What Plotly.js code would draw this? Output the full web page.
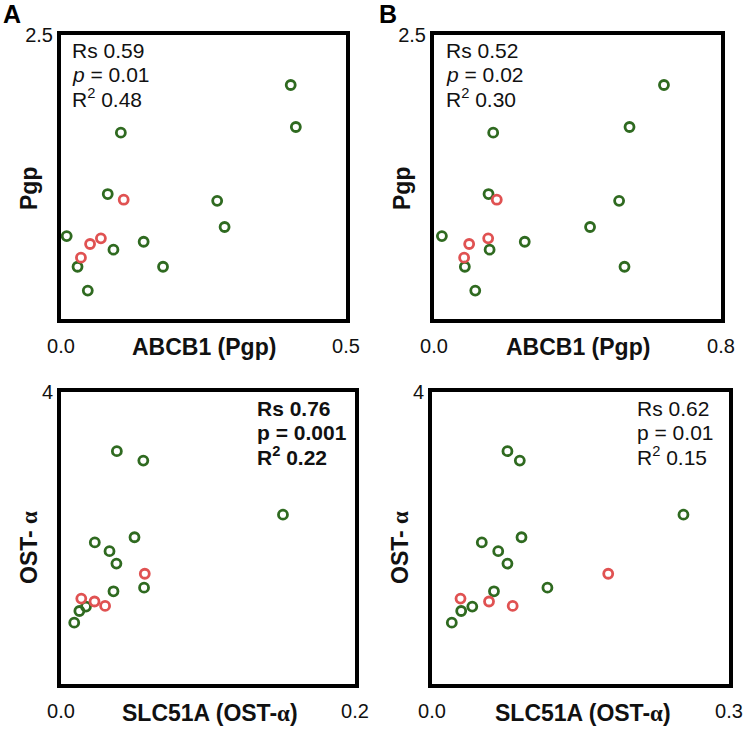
<!DOCTYPE html>
<html>
<head>
<meta charset="utf-8">
<script src="https://cdn.plot.ly/plotly-3.0.1.min.js"></script>
<style>
  html, body { margin: 0; padding: 0; background: #fff; }
  #plot { width: 746px; height: 729px; }
</style>
</head>
<body>
<div id="plot"></div>
<script>
// protein levels (same samples in A/B and in C/D)
let pgpGreen = [0.73, 0.46, 0.25, 1.10, 0.61, 1.64, 0.68, 0.46, 1.04, 0.81, 2.06, 1.69];
let pgpRed = [0.54, 0.66, 0.71, 1.05];
let ostGreen = [0.84, 1.00, 1.06, 1.94, 1.82, 1.65, 1.27, 3.19, 3.06, 2.01, 1.32, 2.32];
let ostRed = [1.17, 1.13, 1.07, 1.51];

// mRNA levels, panel A and B
let abcbGreenA = [0.010, 0.029, 0.047, 0.082, 0.092, 0.105, 0.145, 0.179, 0.274, 0.287, 0.403, 0.412];
let abcbRedA = [0.035, 0.051, 0.070, 0.110];
let abcbGreenB = [0.022, 0.086, 0.115, 0.152, 0.155, 0.165, 0.253, 0.531, 0.516, 0.435, 0.641, 0.545];
let abcbRedB = [0.084, 0.098, 0.151, 0.175];

// mRNA levels, lower panels
let slcGreenC = [0.009, 0.0125, 0.017, 0.023, 0.033, 0.0377, 0.0357, 0.038, 0.056, 0.050, 0.0565, 0.151];
let slcRedC = [0.0138, 0.0228, 0.030, 0.057];
let slcGreenD = [0.020, 0.0295, 0.0407, 0.0503, 0.0669, 0.0762, 0.0626, 0.0762, 0.0887, 0.0904, 0.1166, 0.254];
let slcRedD = [0.0288, 0.0576, 0.0815, 0.178];

// axis ranges / tick labels
let xMax = [0.5, 0.8, 0.2, 0.3];
let xTickText = [["0.0", "0.5"], ["0.0", "0.8"], ["0.0", "0.2"], ["0.0", "0.3"]];
let yMax = [2.5, 2.5, 4, 4];
let yTickText = ["2.5", "2.5", "4", "4"];

// stats box lines per panel
let statsLines = [
  ["Rs 0.59", "<i>p</i> = 0.01", "R<sup>2</sup> 0.48"],
  ["Rs 0.52", "<i>p</i> = 0.02", "R<sup>2</sup> 0.30"],
  ["<b>Rs 0.76</b>", "<b>p = 0.001</b>", "<b>R<sup>2</sup> 0.22</b>"],
  ["Rs 0.62", "p = 0.01", "R<sup>2</sup> 0.15"]
];

const W = 746, H = 729;
const green = "#2f6a20";
const red = "#e05252";
const alpha = "<span style=\"font-family:'Liberation Serif'\">α</span>";

// plot boxes in page pixels (inner edge of frame)
let boxes = [
  {x0: 61, x1: 346, y0: 35, y1: 319},
  {x0: 434, x1: 721, y0: 35, y1: 319},
  {x0: 61, x1: 355, y0: 392, y1: 684},
  {x0: 432, x1: 729, y0: 392, y1: 684}
];
// where the stats text starts (left edge, first line centre)
let statsPos = [[70, 50], [444, 50], [255, 408], [635, 408]];

function marker(c) {
  return {symbol: "circle-open", size: 9, color: c, line: {color: c, width: 2.8}};
}

let xs = [[abcbGreenA, abcbRedA], [abcbGreenB, abcbRedB], [slcGreenC, slcRedC], [slcGreenD, slcRedD]];
let ys = [[pgpGreen, pgpRed], [pgpGreen, pgpRed], [ostGreen, ostRed], [ostGreen, ostRed]];

let data = [];
let layout = {
  width: W, height: H,
  margin: {l: 0, r: 0, t: 0, b: 0},
  paper_bgcolor: "#fff",
  plot_bgcolor: "#fff",
  showlegend: false,
  font: {family: "Liberation Sans, Arial, sans-serif", color: "#111", size: 19},
  annotations: []
};

for (let i = 0; i < 4; i++) {
  let n = i === 0 ? "" : String(i + 1);
  let b = boxes[i];
  data.push({x: xs[i][0], y: ys[i][0], xaxis: "x" + n, yaxis: "y" + n, mode: "markers", type: "scatter", marker: marker(green)});
  data.push({x: xs[i][1], y: ys[i][1], xaxis: "x" + n, yaxis: "y" + n, mode: "markers", type: "scatter", marker: marker(red)});

  layout["xaxis" + n] = {
    domain: [b.x0 / W, b.x1 / W],
    anchor: "y" + n,
    range: [0, xMax[i]],
    tickvals: [0, xMax[i]],
    ticktext: xTickText[i],
    ticks: "",
    ticklabelstandoff: 6,
    showgrid: false, zeroline: false,
    showline: true, linewidth: 4, linecolor: "#000", mirror: true,
    tickfont: {size: 20}
  };
  layout["yaxis" + n] = {
    domain: [1 - b.y1 / H, 1 - b.y0 / H],
    anchor: "x" + n,
    range: [0, yMax[i]],
    tickvals: [yMax[i]],
    ticktext: [yTickText[i]],
    ticks: "",
    ticklabelstandoff: 0,
    showgrid: false, zeroline: false,
    showline: true, linewidth: 4, linecolor: "#000", mirror: true,
    tickfont: {size: 20}
  };

  // axis titles
  let top = i < 2;
  let cx = (b.x0 + b.x1) / 2;
  layout.annotations.push({
    text: top ? "<b>ABCB1 (Pgp)</b>" : "<b>SLC51A (OST-" + alpha + ")</b>",
    xref: "paper", yref: "paper",
    x: (top ? cx : cx + 2) / W, y: 1 - (top ? 347 : 713) / H,
    xanchor: "center", yanchor: "middle", showarrow: false,
    font: {size: 23}
  });
  layout.annotations.push({
    text: top ? "<b>Pgp</b>" : "<b>OST- " + alpha + "</b>",
    xref: "paper", yref: "paper",
    x: (b.x0 - 32) / W, y: 1 - (top ? 189 : 548) / H,
    xanchor: "center", yanchor: "middle", showarrow: false, textangle: -90,
    font: {size: 23}
  });

  // stats text, one annotation per line
  statsLines[i].forEach(function (t, k) {
    layout.annotations.push({
      text: t,
      xref: "paper", yref: "paper",
      x: statsPos[i][0] / W, y: 1 - (statsPos[i][1] + k * 24) / H,
      xanchor: "left", yanchor: "middle", align: "left",
      showarrow: false,
      font: {size: 21}
    });
  });
}

// panel letters
layout.annotations.push({text: "<b>A</b>", xref: "paper", yref: "paper", x: 12 / W, y: 1 - 14 / H,
  xanchor: "center", yanchor: "middle", showarrow: false, font: {size: 25, color: "#000"}});
layout.annotations.push({text: "<b>B</b>", xref: "paper", yref: "paper", x: 388 / W, y: 1 - 14 / H,
  xanchor: "center", yanchor: "middle", showarrow: false, font: {size: 25, color: "#000"}});

Plotly.newPlot("plot", data, layout, {displayModeBar: false, staticPlot: true});
</script>
</body>
</html>
